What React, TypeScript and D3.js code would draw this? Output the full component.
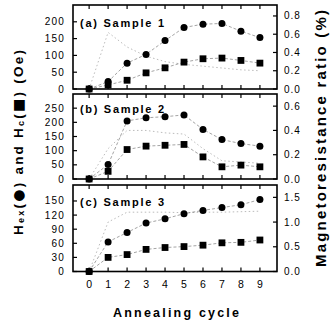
import React from 'react';
import * as d3 from 'd3';

const cycles = [0, 1, 2, 3, 4, 5, 6, 7, 8, 9];

const hexA = [0, 22, 77, 103, 144, 183, 193, 195, 172, 153];
const hcA = [0, 12, 26, 48, 63, 80, 90, 92, 85, 77];
const mrA = [0, 0.62, 0.46, 0.36, 0.3, 0.27, 0.25, 0.23, 0.21, 0.2];

const hexB = [0, 51, 205, 216, 220, 226, 175, 139, 125, 116];
const hcB = [0, 27, 104, 116, 119, 122, 78, 43, 49, 43];
const mrB = [0, 0.25, 0.4, 0.4, 0.38, 0.37, 0.25, 0.15, 0.14, 0.13];

const hexC = [0, 63, 83, 103, 112, 123, 130, 136, 142, 153];
const hcC = [0, 30, 36, 47, 51, 53, 56, 61, 62, 67];
const mrC = [0, 1.0, 1.2, 1.2, 1.2, 1.19, 1.2, 1.2, 1.21, 1.22];

const leftTicksA = [0, 50, 100, 150, 200];
const rightTicksA = [0, 0.2, 0.4, 0.6, 0.8];
const leftTicksB = [0, 50, 100, 150, 200, 250];
const rightTicksB = [0, 0.2, 0.4, 0.6];
const leftTicksC = [0, 30, 60, 90, 120, 150];
const rightTicksC = [0, 0.5, 1.0, 1.5];

const panelLabels = ['(a) Sample 1', '(b) Sample 2', '(c) Sample 3'];

const X0 = 73;
const X1 = 277;
const x = d3.scaleLinear().domain([-0.85, 9.9]).range([X0, X1]);

const font = "'Liberation Sans', Arial, sans-serif";

type PanelProps = {
  top: number;
  bottom: number;
  leftMax: number;
  rightMax: number;
  hex: number[];
  hc: number[];
  mr: number[];
  leftTicks: number[];
  rightTicks: number[];
  label: string;
  showX: boolean;
};

function Panel(p: PanelProps) {
  const yL = d3.scaleLinear().domain([0, p.leftMax]).range([p.bottom, p.top]);
  const yR = d3.scaleLinear().domain([0, p.rightMax]).range([p.bottom, p.top]);
  const lineL = d3
    .line<number>()
    .x((_, i) => x(cycles[i]))
    .y((d) => yL(d));
  const lineR = d3
    .line<number>()
    .x((_, i) => x(cycles[i]))
    .y((d) => yR(d));
  const tl = 4;
  const topTick = p.leftTicks[p.leftTicks.length - 1];
  return (
    <g>
      <path d={lineR(p.mr) || ''} fill="none" stroke="#aaa" strokeWidth={0.8} strokeDasharray="1.5,2.5" />
      <path d={lineL(p.hex) || ''} fill="none" stroke="#666" strokeWidth={0.6} strokeDasharray="3,2" />
      <path d={lineL(p.hc) || ''} fill="none" stroke="#666" strokeWidth={0.6} strokeDasharray="3,2" />
      <rect x={X0} y={p.top} width={X1 - X0} height={p.bottom - p.top} fill="none" stroke="#000" strokeWidth={1.6} />
      {cycles.map((c) => (
        <g key={'xt' + c}>
          <line x1={x(c)} x2={x(c)} y1={p.bottom} y2={p.bottom - tl} stroke="#000" strokeWidth={1.2} />
          <line x1={x(c)} x2={x(c)} y1={p.top} y2={p.top + tl} stroke="#000" strokeWidth={1.2} />
          {p.showX && (
            <text x={x(c)} y={p.bottom + 12} textAnchor="middle" dominantBaseline="central" fontFamily={font} fontSize={10.5} fill="#000">
              {c}
            </text>
          )}
        </g>
      ))}
      {p.leftTicks.map((t) => (
        <g key={'lt' + t}>
          <line x1={X0} x2={X0 + tl} y1={yL(t)} y2={yL(t)} stroke="#000" strokeWidth={1.2} />
          <text x={65} y={yL(t)} textAnchor="end" dominantBaseline="central" fontFamily={font} fontSize={10} letterSpacing={1.2} fill="#000">
            {t}
          </text>
        </g>
      ))}
      {p.rightTicks.map((t) => (
        <g key={'rt' + t}>
          <line x1={X1} x2={X1 - tl} y1={yR(t)} y2={yR(t)} stroke="#000" strokeWidth={1.2} />
          <text x={284} y={yR(t)} textAnchor="start" dominantBaseline="central" fontFamily={font} fontSize={10} letterSpacing={1} fill="#000">
            {d3.format('.1f')(t)}
          </text>
        </g>
      ))}
      {p.hc.map((v, i) => (
        <rect key={'sq' + i} x={x(cycles[i]) - 3.4} y={yL(v) - 3.4} width={6.8} height={6.8} fill="#000" />
      ))}
      {p.hex.map((v, i) => (
        <circle key={'ci' + i} cx={x(cycles[i])} cy={yL(v)} r={3.5} fill="#000" />
      ))}
      <text x={80} y={yL(topTick) + 1} dominantBaseline="central" fontFamily={font} fontWeight="bold" fontSize={11} textLength={84} lengthAdjust="spacing" fill="#000">
        {p.label}
      </text>
    </g>
  );
}

export default function App() {
  return (
    <svg width={330} height={324} style={{ position: 'absolute', left: 0, top: 0, background: '#fff' }}>
      <rect width={330} height={324} fill="#fff" />
      <Panel top={5} bottom={89} leftMax={250} rightMax={0.92} hex={hexA} hc={hcA} mr={mrA} leftTicks={leftTicksA} rightTicks={rightTicksA} label={panelLabels[0]} showX={false} />
      <Panel top={94} bottom={179} leftMax={300} rightMax={0.7} hex={hexB} hc={hcB} mr={mrB} leftTicks={leftTicksB} rightTicks={rightTicksB} label={panelLabels[1]} showX={false} />
      <Panel top={185} bottom={271.5} leftMax={184} rightMax={1.75} hex={hexC} hc={hcC} mr={mrC} leftTicks={leftTicksC} rightTicks={rightTicksC} label={panelLabels[2]} showX={true} />
      <text x={113} y={313} dominantBaseline="central" fontFamily={font} fontWeight="bold" fontSize={12.5} textLength={126} lengthAdjust="spacing" fill="#000">
        Annealing cycle
      </text>
      <text transform="translate(18,235) rotate(-90)" dominantBaseline="central" fontFamily={font} fontWeight="bold" fontSize={13.5} textLength={185} lengthAdjust="spacing" fill="#000">
        H<tspan fontSize={9} dy={3}>ex</tspan><tspan dy={-3}>(</tspan><tspan fontFamily="'DejaVu Sans', sans-serif" fontSize={14}>●</tspan><tspan>) and H</tspan><tspan fontSize={9} dy={3}>c</tspan><tspan dy={-3}>(</tspan><tspan fontFamily="'DejaVu Sans', sans-serif" fontSize={14}>■</tspan><tspan>) (Oe)</tspan>
      </text>
      <text transform="translate(320,267) rotate(-90)" dominantBaseline="central" fontFamily={font} fontWeight="bold" fontSize={15} textLength={257} lengthAdjust="spacing" fill="#000">
        Magnetoresistance ratio (%)
      </text>
    </svg>
  );
}
